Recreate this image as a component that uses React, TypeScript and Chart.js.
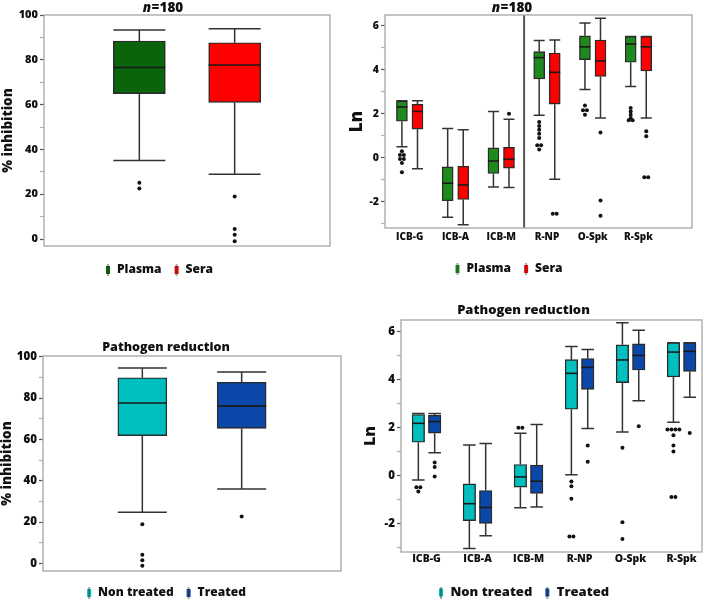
import React, { useEffect, useRef } from 'react';
import { Chart, registerables } from 'chart.js';

Chart.register(...registerables);
Chart.defaults.font.family = '"Open Sans", "Noto Sans", sans-serif';

// ================= DATA =================
// Panel A (top-left): % inhibition, n=180
const inhGroups = ['Plasma', 'Sera'];
const inhLow = [35.1, 28.9];
const inhQ1 = [64.9, 61.0];
const inhMedian = [76.6, 77.7];
const inhQ3 = [88.4, 87.6];
const inhHigh = [93.3, 93.9];
const inhOutliers = [[25.1, 22.6], [19.0, 4.5, 1.9, -1.0]];

// Panels B and D categories
const lnCategories = ['ICB-G', 'ICB-A', 'ICB-M', 'R-NP', 'O-Spk', 'R-Spk'];

// Panel B (top-right): Ln, n=180
const plasmaLow = [0.5, -2.71, -1.33, 1.93, 3.11, 3.24];
const plasmaQ1 = [1.66, -1.96, -0.72, 3.59, 4.47, 4.35];
const plasmaMedian = [2.31, -1.16, -0.15, 4.56, 5.05, 5.18];
const plasmaQ3 = [2.58, -0.42, 0.45, 4.83, 5.55, 5.52];
const plasmaHigh = [2.6, 1.33, 2.11, 5.34, 6.13, 5.52];
const plasmaOutliers = [
  [0.3, 0.12, 0.12, -0.06, -0.06, -0.24, -0.66],
  [],
  [],
  [1.63, 1.45, 1.27, 1.09, 0.9, 0.57, 0.57, 0.38],
  [2.38, 2.16, 2.16, 1.96],
  [2.26, 2.11, 1.96, 1.81, 1.71, 1.71],
];
const seraLow = [-0.5, -3.05, -1.36, -0.98, 1.81, 1.81];
const seraQ1 = [1.3, -1.9, -0.47, 2.44, 3.7, 3.95];
const seraMedian = [2.11, -1.24, -0.07, 3.89, 4.41, 5.05];
const seraQ3 = [2.44, -0.39, 0.48, 4.77, 5.36, 5.52];
const seraHigh = [2.6, 1.27, 1.75, 5.36, 6.35, 5.52];
const seraOutliers = [[], [], [2.0], [-2.55, -2.55], [1.15, -1.95, -2.64], [1.21, 0.98, -0.89, -0.89]];

// Panel C (bottom-left): % inhibition, pathogen reduction
const prGroups = ['Non treated', 'Treated'];
const prLow = [24.8, 36.0];
const prQ1 = [61.8, 65.3];
const prMedian = [77.6, 76.1];
const prQ3 = [89.8, 87.6];
const prHigh = [94.5, 92.6];
const prOutliers = [[19.0, 4.3, 1.6, -1.1], [22.7]];

// Panel D (bottom-right): Ln, pathogen reduction
const nonTreatedLow = [-0.19, -3.05, -1.35, 0.03, 1.82, 2.23];
const nonTreatedQ1 = [1.39, -1.89, -0.49, 2.77, 3.88, 4.12];
const nonTreatedMedian = [2.18, -1.18, -0.06, 4.27, 4.83, 5.16];
const nonTreatedQ3 = [2.55, -0.35, 0.46, 4.84, 5.46, 5.55];
const nonTreatedHigh = [2.59, 1.27, 1.77, 5.39, 6.39, 5.55];
const nonTreatedOutliers = [
  [-0.49, -0.49, -0.67],
  [],
  [2.0, 2.0],
  [-0.25, -0.45, -0.97, -2.55, -2.55],
  [1.16, -1.96, -2.66],
  [1.92, 1.92, 1.92, 1.92, 1.68, 1.25, 1.0, -0.9, -0.9],
];
const treatedLow = [0.95, -2.52, -1.32, 1.96, 3.12, 3.27];
const treatedQ1 = [1.77, -2.0, -0.75, 3.6, 4.41, 4.35];
const treatedMedian = [2.25, -1.34, -0.24, 4.52, 5.02, 5.19];
const treatedQ3 = [2.52, -0.63, 0.43, 4.89, 5.5, 5.55];
const treatedHigh = [2.59, 1.34, 2.13, 5.27, 6.07, 5.55];
const treatedOutliers = [[0.54, 0.35, -0.04], [], [], [1.25, 0.57], [2.06], [1.78]];

// Tick labels
const pctMajorTicks = [0, 20, 40, 60, 80, 100];
const pctMinorTicks = [10, 30, 50, 70, 90];
const lnMajorTicks = [-2, 0, 2, 4, 6];
const lnMinorTicks = [-3, -1, 1, 3, 5];

const W = 800; // font weight

// ================= TYPES / BUILDERS =================
type BoxSeries = {
  label: string;
  color: string;
  x: number[];
  low: number[];
  q1: number[];
  median: number[];
  q3: number[];
  high: number[];
  outliers: number[][];
};

type PanelSpec = {
  key: string;
  left: number;
  top: number;
  width: number;
  height: number;
  padTop: number;
  series: BoxSeries[];
  xMin: number;
  xMax: number;
  xTickValues: number[];
  categories: string[] | null;
  catFont: number;
  catPad: number;
  yMin: number;
  yMax: number;
  yMajor: number[];
  yMinor: number[];
  tickFont: number;
  yTitle: string;
  yTitleFont: number;
  yTitlePad: number;
  yAxisWidth: number;
  xAxisHeight: number;
  legendFont: number;
  boxPx: number;
  dupStep: number;
  separatorAt: number | null;
  nTitle: { x: number; y: number; size: number } | null;
  chartTitle: { text: string; size: number; padTop: number; padBottom: number } | null;
};

const singleBox = (labels: string[], colors: string[], low: number[], q1: number[], med: number[], q3: number[], high: number[], out: number[][]): BoxSeries[] =>
  labels.map((label, i) => ({
    label,
    color: colors[i],
    x: [i + 1],
    low: [low[i]],
    q1: [q1[i]],
    median: [med[i]],
    q3: [q3[i]],
    high: [high[i]],
    outliers: [out[i]],
  }));

const groupedBox = (label: string, color: string, shift: number, low: number[], q1: number[], med: number[], q3: number[], high: number[], out: number[][]): BoxSeries => ({
  label,
  color,
  x: lnCategories.map((_, i) => i + shift),
  low,
  q1,
  median: med,
  q3,
  high,
  outliers: out,
});

const outlierPoints = (s: BoxSeries, step: number) => {
  const pts: { x: number; y: number }[] = [];
  s.outliers.forEach((list, j) => {
    const counts = new Map<number, number>();
    list.forEach((v) => counts.set(v, (counts.get(v) || 0) + 1));
    const seen = new Map<number, number>();
    list.forEach((v) => {
      const n = counts.get(v) || 1;
      const k = seen.get(v) || 0;
      seen.set(v, k + 1);
      pts.push({ x: s.x[j] + (k - (n - 1) / 2) * step, y: v });
    });
  });
  return pts;
};

const makeMarker = (color: string) => {
  const c = document.createElement('canvas');
  c.width = 6;
  c.height = 12;
  const g = c.getContext('2d')!;
  g.fillStyle = color;
  g.fillRect(1, 2, 4, 8);
  g.fillStyle = 'rgba(50,50,50,0.85)';
  g.fillRect(2.5, 0, 1, 12);
  return c;
};

const makeBoxPlugin = (spec: PanelSpec) => ({
  id: 'boxParts_' + spec.key,
  beforeDatasetsDraw(chart: any) {
    const { ctx, chartArea, scales } = chart;
    const xs = scales.x;
    const ys = scales.y;
    ctx.save();
    if (spec.separatorAt !== null) {
      const sx = xs.getPixelForValue(spec.separatorAt);
      ctx.strokeStyle = '#555';
      ctx.lineWidth = 2;
      ctx.beginPath();
      ctx.moveTo(sx, chartArea.top);
      ctx.lineTo(sx, chartArea.bottom);
      ctx.stroke();
    }
    ctx.strokeStyle = '#333';
    ctx.lineWidth = 1.5;
    const half = spec.boxPx / 2;
    spec.series.forEach((s) => {
      s.x.forEach((xv, j) => {
        const cx = xs.getPixelForValue(xv);
        const yl = ys.getPixelForValue(s.low[j]);
        const y1 = ys.getPixelForValue(s.q1[j]);
        const y3 = ys.getPixelForValue(s.q3[j]);
        const yh = ys.getPixelForValue(s.high[j]);
        ctx.beginPath();
        ctx.moveTo(cx, yl);
        ctx.lineTo(cx, y1);
        ctx.moveTo(cx, y3);
        ctx.lineTo(cx, yh);
        ctx.moveTo(cx - half, yl);
        ctx.lineTo(cx + half, yl);
        ctx.moveTo(cx - half, yh);
        ctx.lineTo(cx + half, yh);
        ctx.stroke();
      });
    });
    ctx.restore();
  },
  afterDatasetsDraw(chart: any) {
    const { ctx, chartArea, scales } = chart;
    const xs = scales.x;
    const ys = scales.y;
    ctx.save();
    ctx.strokeStyle = '#1a1a1a';
    ctx.lineWidth = 1.6;
    const half = spec.boxPx / 2;
    spec.series.forEach((s) => {
      s.x.forEach((xv, j) => {
        const cx = xs.getPixelForValue(xv);
        const ym = ys.getPixelForValue(s.median[j]);
        ctx.beginPath();
        ctx.moveTo(cx - half, ym);
        ctx.lineTo(cx + half, ym);
        ctx.stroke();
      });
    });
    ctx.strokeStyle = '#a6a6a6';
    ctx.lineWidth = 1.3;
    ctx.strokeRect(chartArea.left, chartArea.top, chartArea.right - chartArea.left, chartArea.bottom - chartArea.top);
    ctx.restore();
  },
  afterDraw(chart: any) {
    if (!spec.nTitle) return;
    const { ctx } = chart;
    const t = spec.nTitle;
    ctx.save();
    ctx.fillStyle = '#111';
    ctx.textBaseline = 'middle';
    ctx.textAlign = 'left';
    const fi = `italic ${W} ${t.size}px "Open Sans", sans-serif`;
    const fb = `${W} ${t.size}px "Open Sans", sans-serif`;
    ctx.font = fi;
    const w1 = ctx.measureText('n').width;
    ctx.font = fb;
    const w2 = ctx.measureText('=180').width;
    const x0 = t.x - (w1 + w2) / 2;
    ctx.font = fi;
    ctx.fillText('n', x0, t.y);
    ctx.font = fb;
    ctx.fillText('=180', x0 + w1 + 0.5, t.y);
    ctx.restore();
  },
});

function buildConfig(spec: PanelSpec): any {
  const datasets: any[] = [];
  spec.series.forEach((s) => {
    datasets.push({
      type: 'bar',
      label: s.label,
      data: s.x.map((xv, j) => ({ x: xv, y: [s.q1[j], s.q3[j]] })),
      backgroundColor: s.color,
      borderColor: '#2a2a2a',
      borderWidth: 1.4,
      borderSkipped: false,
      barThickness: spec.boxPx,
      grouped: false,
    });
  });
  spec.series.forEach((s) => {
    datasets.push({
      type: 'scatter',
      label: s.label + ' outliers',
      data: outlierPoints(s, spec.dupStep),
      pointRadius: 2,
      pointBackgroundColor: '#111',
      pointBorderWidth: 0,
      showLine: false,
    });
  });
  const markers = spec.series.map((s) => makeMarker(s.color));
  const allY = [...spec.yMajor, ...spec.yMinor].sort((a, b) => a - b);
  return {
    type: 'bar',
    data: { datasets },
    plugins: [makeBoxPlugin(spec)],
    options: {
      animation: false,
      responsive: false,
      maintainAspectRatio: false,
      devicePixelRatio: 1,
      events: [],
      layout: { padding: { left: 5, right: 5, top: spec.padTop, bottom: 0 } },
      scales: {
        x: {
          type: 'linear',
          min: spec.xMin,
          max: spec.xMax,
          offset: false,
          grid: { display: false, drawTicks: false, offset: false },
          border: { display: false },
          ticks: {
            display: !!spec.categories,
            autoSkip: false,
            maxRotation: 0,
            padding: spec.catPad,
            color: '#111',
            font: { size: spec.catFont, weight: W },
            callback: (v: number) => (spec.categories ? spec.categories[Math.round(v)] ?? '' : ''),
          },
          afterBuildTicks: (axis: any) => {
            axis.ticks = spec.xTickValues.map((v) => ({ value: v }));
          },
          afterFit: (axis: any) => {
            axis.height = spec.xAxisHeight;
          },
        },
        y: {
          type: 'linear',
          min: spec.yMin,
          max: spec.yMax,
          grid: {
            drawOnChartArea: false,
            drawTicks: true,
            tickLength: 4,
            tickWidth: 1.2,
            tickColor: (c: any) => (c.tick && spec.yMajor.includes(c.tick.value) ? '#555' : '#b0b0b0'),
          },
          border: { display: false },
          ticks: {
            padding: 2,
            autoSkip: false,
            color: '#111',
            font: { size: spec.tickFont, weight: W },
            callback: (v: number) => (spec.yMajor.includes(v) ? String(v) : ''),
          },
          afterBuildTicks: (axis: any) => {
            axis.ticks = allY.map((v) => ({ value: v }));
          },
          title: {
            display: true,
            text: spec.yTitle,
            color: '#111',
            font: { size: spec.yTitleFont, weight: W },
            padding: { top: spec.yTitlePad, bottom: 0 },
          },
          afterFit: (axis: any) => {
            axis.width = spec.yAxisWidth;
          },
        },
      },
      plugins: {
        tooltip: { enabled: false },
        title: spec.chartTitle
          ? {
              display: true,
              text: spec.chartTitle.text,
              color: '#111',
              font: { size: spec.chartTitle.size, weight: W },
              padding: { top: spec.chartTitle.padTop, bottom: spec.chartTitle.padBottom },
            }
          : { display: false },
        legend: {
          display: true,
          position: 'bottom',
          onClick: () => {},
          labels: {
            usePointStyle: true,
            boxWidth: 6,
            padding: 12,
            color: '#111',
            font: { size: spec.legendFont, weight: W },
            generateLabels: () =>
              spec.series.map((s, i) => ({
                text: s.label,
                pointStyle: markers[i],
                fillStyle: s.color,
                strokeStyle: s.color,
                lineWidth: 0,
                hidden: false,
                datasetIndex: i,
                fontColor: '#111',
              })),
          },
        },
      },
    },
  };
}

// ================= PANELS =================
const panelA: PanelSpec = {
  key: 'A',
  left: -17,
  top: 0,
  width: 352,
  height: 286,
  padTop: 15,
  series: singleBox(inhGroups, ['#0a640c', '#ff0000'], inhLow, inhQ1, inhMedian, inhQ3, inhHigh, inhOutliers),
  xMin: 0,
  xMax: 3,
  xTickValues: [1, 2],
  categories: null,
  catFont: 10,
  catPad: 2,
  yMin: -3.1,
  yMax: 100,
  yMajor: pctMajorTicks,
  yMinor: pctMinorTicks,
  tickFont: 11,
  yTitle: '% inhibition',
  yTitleFont: 13.5,
  yTitlePad: 12.2,
  yAxisWidth: 56,
  xAxisHeight: 6,
  legendFont: 12,
  boxPx: 52,
  dupStep: 0.045,
  separatorAt: null,
  nTitle: { x: 179.7, y: 7.8, size: 13.5 },
  chartTitle: null,
};

const panelB: PanelSpec = {
  key: 'B',
  left: 320,
  top: 0,
  width: 377,
  height: 285,
  padTop: 15,
  series: [
    groupedBox('Plasma', '#1e8a1e', -0.17, plasmaLow, plasmaQ1, plasmaMedian, plasmaQ3, plasmaHigh, plasmaOutliers),
    groupedBox('Sera', '#ff0000', 0.17, seraLow, seraQ1, seraMedian, seraQ3, seraHigh, seraOutliers),
  ],
  xMin: -0.54,
  xMax: 6.17,
  xTickValues: lnCategories.map((_, i) => i),
  categories: lnCategories,
  catFont: 10,
  catPad: 2.7,
  yMin: -3.2,
  yMax: 6.5,
  yMajor: lnMajorTicks,
  yMinor: lnMinorTicks,
  tickFont: 10.5,
  yTitle: 'Ln',
  yTitleFont: 17,
  yTitlePad: 22,
  yAxisWidth: 60,
  xAxisHeight: 23,
  legendFont: 12,
  boxPx: 11,
  dupStep: 0.085,
  separatorAt: 2.5,
  nTitle: { x: 191.7, y: 7.8, size: 13.5 },
  chartTitle: null,
};

const panelC: PanelSpec = {
  key: 'C',
  left: -14,
  top: 300,
  width: 360,
  height: 309,
  padTop: 0,
  series: singleBox(prGroups, ['#00bfbf', '#0a47a8'], prLow, prQ1, prMedian, prQ3, prHigh, prOutliers),
  xMin: 0,
  xMax: 3,
  xTickValues: [1, 2],
  categories: null,
  catFont: 10,
  catPad: 2,
  yMin: -3.6,
  yMax: 100.3,
  yMajor: pctMajorTicks,
  yMinor: pctMinorTicks,
  tickFont: 11.5,
  yTitle: '% inhibition',
  yTitleFont: 13.5,
  yTitlePad: 8.2,
  yAxisWidth: 52,
  xAxisHeight: 4,
  legendFont: 12,
  boxPx: 49,
  dupStep: 0.042,
  separatorAt: null,
  nTitle: null,
  chartTitle: { text: 'Pathogen reduction', size: 12.5, padTop: 40.2, padBottom: 0.8 },
};

const panelD: PanelSpec = {
  key: 'D',
  left: 340,
  top: 300,
  width: 367,
  height: 309,
  padTop: 0,
  series: [
    groupedBox('Non treated', '#00bfbf', -0.16, nonTreatedLow, nonTreatedQ1, nonTreatedMedian, nonTreatedQ3, nonTreatedHigh, nonTreatedOutliers),
    groupedBox('Treated', '#0a47a8', 0.16, treatedLow, treatedQ1, treatedMedian, treatedQ3, treatedHigh, treatedOutliers),
  ],
  xMin: -0.5,
  xMax: 5.4,
  xTickValues: lnCategories.map((_, i) => i),
  categories: lnCategories,
  catFont: 10.5,
  catPad: 1.2,
  yMin: -3.2,
  yMax: 6.5,
  yMajor: lnMajorTicks,
  yMinor: lnMinorTicks,
  tickFont: 11.5,
  yTitle: 'Ln',
  yTitleFont: 16,
  yTitlePad: 15.4,
  yAxisWidth: 56,
  xAxisHeight: 22,
  legendFont: 13,
  boxPx: 12.5,
  dupStep: 0.078,
  separatorAt: null,
  nTitle: null,
  chartTitle: { text: 'Pathogen reduction', size: 13, padTop: 2.2, padBottom: 2.2 },
};

const panels = [panelA, panelB, panelC, panelD];

function Panel({ spec }: { spec: PanelSpec }) {
  const ref = useRef<HTMLCanvasElement>(null);
  useEffect(() => {
    if (!ref.current) return;
    const chart = new Chart(ref.current, buildConfig(spec));
    return () => chart.destroy();
  }, [spec]);
  return (
    <canvas
      ref={ref}
      width={spec.width}
      height={spec.height}
      style={{ position: 'absolute', left: spec.left, top: spec.top, width: spec.width, height: spec.height }}
    />
  );
}

export default function App() {
  return (
    <div
      style={{
        position: 'fixed',
        left: 0,
        top: 0,
        width: 709,
        height: 600,
        overflow: 'hidden',
        background: '#ffffff',
      }}
    >
      {panels.map((p) => (
        <Panel key={p.key} spec={p} />
      ))}
    </div>
  );
}
